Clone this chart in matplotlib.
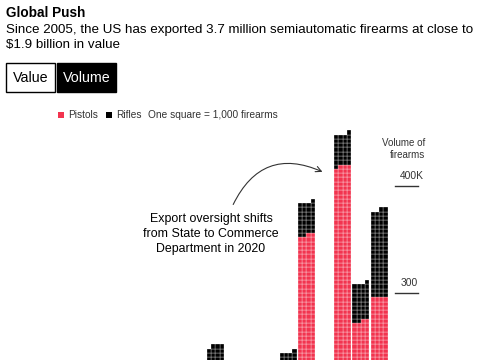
import matplotlib
matplotlib.use('Agg')
import matplotlib.pyplot as plt
from matplotlib.patches import Rectangle

plt.rcParams['font.family'] = ['Liberation Sans', 'DejaVu Sans']

# dados: exportações por ano, em milhares de armas (1 quadrado = 1.000)
anos = list(range(2005, 2023))
pistolas = [70, 85, 95, 110, 120, 115, 140, 170, 220, 160, 150, 165, 212, 354, 195, 419, 274, 296]
rifles = [10, 12, 15, 18, 20, 18, 25, 30, 31, 25, 22, 25, 33, 31, 28, 30, 35, 82]
ticks_valor = [300, 400]
ticks_texto = ['300', '400K']

VERMELHO = '#f2344f'
W, H = 485, 360
POR_LINHA = 4          # quadrados por linha em cada coluna
PASSO = 4.25           # distância entre colunas (em largura de quadrado)
PX_UNID = 4.28         # pixels por largura de quadrado


def px(x, y):
    # converte pixels (origem no topo) para fração da figura
    return x / W, 1 - y / H


fig = plt.figure(figsize=(W / 100, H / 100), dpi=100)

# cabeçalho
fig.text(*px(6, 13), 'Global Push', fontsize=9.8, fontweight='bold', va='center')
fig.text(*px(6, 29.5), 'Since 2005, the US has exported 3.7 million semiautomatic firearms at close to',
         fontsize=9.6, va='center')
fig.text(*px(6, 45), '$1.9 billion in value', fontsize=9.6, va='center')

# botões
x0, y0 = px(6, 92)
fig.add_artist(Rectangle((x0, y0), 49 / W, 29 / H, transform=fig.transFigure,
                         facecolor='white', edgecolor='black', lw=1))
x0, y0 = px(57, 92)
fig.add_artist(Rectangle((x0, y0), 59 / W, 29 / H, transform=fig.transFigure,
                         facecolor='black', edgecolor='black', lw=1))
fig.text(*px(30.5, 78), 'Value', fontsize=10.3, ha='center', va='center')
fig.text(*px(86.5, 78), 'Volume', fontsize=10.3, ha='center', va='center', color='white')

# legenda
for xq, cor in [(58, VERMELHO), (106, 'black')]:
    x0, y0 = px(xq, 118)
    fig.add_artist(Rectangle((x0, y0), 6 / W, 6 / H, transform=fig.transFigure,
                             facecolor=cor, edgecolor='none'))
fig.text(*px(68, 115), 'Pistols', fontsize=7.3, va='center', color='#333333')
fig.text(*px(116, 115), 'Rifles', fontsize=7.3, va='center', color='#333333')
fig.text(*px(148, 115), 'One square = 1,000 firearms', fontsize=7.3, va='center', color='#333333')

# área do gráfico (cortada embaixo, como na referência)
esq = 61.3
ax = fig.add_axes([esq / W, 0, (W - esq) / W, (H - 120) / H])
ax.set_xlim(0, (W - esq) / PX_UNID)
ax.set_ylim((614 - H) / 1.07, (614 - 120) / 1.07)
ax.axis('off')

xs, ys, cores = [], [], []
for i, ano in enumerate(anos):
    total = pistolas[i] + rifles[i]
    for k in range(total):
        linha = k // POR_LINHA
        col = POR_LINHA - 1 - k % POR_LINHA
        xs.append(i * PASSO + col)
        ys.append(linha * POR_LINHA)
        cores.append(VERMELHO if k < pistolas[i] else 'black')

ax.bar(xs, POR_LINHA, bottom=ys, width=1, align='edge', color=cores,
       edgecolor='white', linewidth=0.2)

# eixo à direita
xd = lambda p: (p - esq) / PX_UNID
for v, t in zip(ticks_valor, ticks_texto):
    ax.plot([xd(395), xd(418)], [v, v], color='#333333', lw=1, clip_on=False)
    ax.text(xd(418) if t.isdigit() else xd(424), v + 9.5, t, fontsize=7.4,
            ha='right', va='center', color='#333333', clip_on=False)
ax.text(xd(425), 435, 'Volume of\nfirearms', fontsize=7.0, ha='right', va='center',
        color='#333333', linespacing=1.25)

# anotação
ax.text(xd(211), 355, 'Export oversight shifts\nfrom State to Commerce\nDepartment in 2020',
        fontsize=8.9, ha='center', va='center', linespacing=1.3)
ax.annotate('', xy=(xd(325), (614 - 173) / 1.07), xytext=(xd(232), (614 - 207) / 1.07),
            arrowprops=dict(arrowstyle='->', color='#333333', lw=0.8,
                            connectionstyle='arc3,rad=-0.5'))

fig.savefig('out.png', dpi=100)
